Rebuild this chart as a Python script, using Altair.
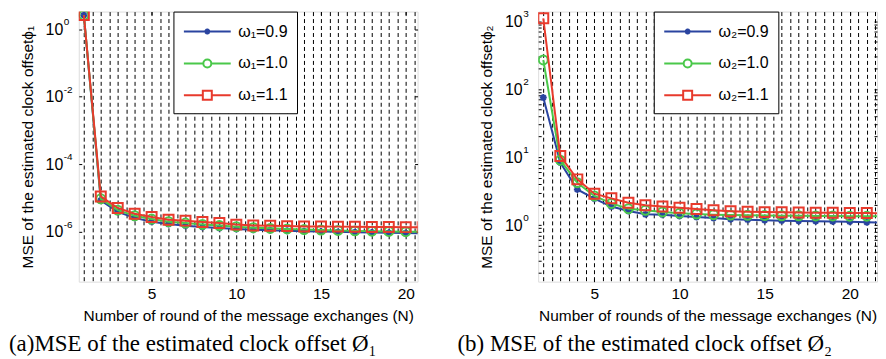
import altair as alt
import pandas as pd

# ---------------- data ----------------
left_N = list(range(1, 22))
left_blue = [2.6, 8.5e-6, 3.9e-6, 2.6e-6, 2.0e-6, 1.7e-6, 1.52e-6, 1.4e-6, 1.3e-6, 1.22e-6,
             1.16e-6, 1.12e-6, 1.08e-6, 1.05e-6, 1.02e-6, 1.0e-6, 0.98e-6, 0.96e-6, 0.94e-6, 0.92e-6, 0.9e-6]
left_green = [2.6, 9.5e-6, 4.4e-6, 3.0e-6, 2.4e-6, 2.0e-6, 1.82e-6, 1.66e-6, 1.54e-6, 1.42e-6,
              1.33e-6, 1.27e-6, 1.22e-6, 1.17e-6, 1.13e-6, 1.1e-6, 1.07e-6, 1.05e-6, 1.03e-6, 1.01e-6, 1.0e-6]
left_red = [2.6, 1.12e-5, 5.1e-6, 3.45e-6, 2.75e-6, 2.3e-6, 2.15e-6, 1.97e-6, 1.84e-6, 1.64e-6,
            1.55e-6, 1.52e-6, 1.48e-6, 1.45e-6, 1.44e-6, 1.43e-6, 1.41e-6, 1.4e-6, 1.39e-6, 1.38e-6, 1.37e-6]
left_labels = ["ω₁=0.9", "ω₁=1.0", "ω₁=1.1"]

right_N = list(range(2, 23))
right_blue = [75, 8.3, 3.34, 2.44, 1.87, 1.61, 1.44, 1.42, 1.36, 1.31, 1.27, 1.22, 1.2, 1.18, 1.16,
              1.15, 1.14, 1.13, 1.12, 1.1, 1.09]
right_green = [268, 9.0, 4.2, 2.68, 2.08, 1.74, 1.65, 1.56, 1.49, 1.45, 1.42, 1.4, 1.39, 1.38, 1.37,
               1.37, 1.36, 1.36, 1.35, 1.35, 1.34]
right_red = [1100, 10.4, 4.7, 2.89, 2.47, 2.13, 1.95, 1.87, 1.8, 1.72, 1.65, 1.6, 1.57, 1.55, 1.54,
             1.53, 1.52, 1.52, 1.51, 1.5, 1.48]
right_labels = ["ω₂=0.9", "ω₂=1.0", "ω₂=1.1"]

x_ticks = [5, 10, 15, 20]
left_grid = [1 + 0.5 * i for i in range(40)]
right_grid = [2 + 0.5 * i for i in range(40)]
left_yticks = [1e0, 1e-2, 1e-4, 1e-6]
left_yexp = ["0", "-2", "-4", "-6"]
left_yminor = []
right_yticks = [1e0, 1e1, 1e2, 1e3]
right_yexp = ["0", "1", "2", "3"]
right_yminor = [m * 10 ** k for k in range(-1, 4) for m in range(2, 10)]

colors = ["#2a44a0", "#4ac84a", "#e83a2c"]
FONT = "Liberation Sans"

# marker shapes for plot points
star_path = "M-1,0L1,0M0,-1L0,1M-0.7,-0.7L0.7,0.7M-0.7,0.7L0.7,-0.7"
point_shapes = [star_path, "circle", "square"]
point_sizes = [49, 81, 100]

# legend symbols: line segment + marker (scale 10px per unit with size 400)
leg_paths = [
    "M-2.35,0L2.35,0M-0.3,0L0.3,0M0,-0.3L0,0.3M-0.21,-0.21L0.21,0.21M-0.21,0.21L0.21,-0.21",
    "M-2.35,0L-0.4,0A0.4,0.4 0 1,1 0.4,0A0.4,0.4 0 1,1 -0.4,0M0.4,0L2.35,0",
    "M-2.35,0L-0.45,0M-0.45,-0.45L0.45,-0.45L0.45,0.45L-0.45,0.45ZM0.45,0L2.35,0",
]

IS_MAJOR = "abs(log(datum.value)/LN10 - round(log(datum.value)/LN10)) < 0.001"


def panel(N, series, labels, xdom, ydom, yticks, yexp, yminor, grid, ytitle, xtitle,
          caption, legx, capdx):
    rows = []
    for lab, vals in zip(labels, series):
        for n, v in zip(N, vals):
            rows.append({"N": n, "value": v, "series": lab})
    df = pd.DataFrame(rows)
    base = alt.Chart(df)
    xs = alt.Scale(domain=xdom, nice=False, zero=False)
    ys = alt.Scale(type="log", domain=ydom, nice=False)

    x_main = alt.X("N:Q", scale=xs, axis=alt.Axis(
        values=grid, grid=True, gridDash=[4, 3], gridColor="black", gridOpacity=1, gridWidth=1,
        ticks=True, tickSize=3, tickColor="black", tickWidth=1, offset=-3,
        tickOpacity={"condition": {"test": "datum.value % 5 == 0", "value": 1}, "value": 0},
        domain=False,
        labelExpr="datum.value % 5 == 0 ? datum.value : ''",
        labelFont=FONT, labelFontSize=15.5, labelColor="black", labelPadding=5,
        labelFlush=False, labelOverlap=False,
        title=xtitle, titleFont=FONT, titleFontSize=15.5, titleFontWeight="normal",
        titleColor="black", titlePadding=6))
    x_top = alt.X("N:Q", scale=xs, axis=alt.Axis(
        orient="top", values=x_ticks, grid=False, ticks=True, tickSize=3, tickColor="black",
        offset=-3, domain=False, labels=False, title=None))
    y_main = alt.Y("value:Q", scale=ys, axis=alt.Axis(
        values=yticks + yminor, grid=False, ticks=True, tickSize=3, tickColor="black", offset=-3,
        domain=False, labelExpr=f"{IS_MAJOR} ? '10' : ''",
        labelFont=FONT, labelFontSize=16, labelColor="black", labelPadding=16,
        labelFlush=False, labelOverlap=False,
        title=ytitle, titleFont=FONT, titleFontSize=15.5, titleFontWeight="normal",
        titleColor="black", titlePadding=10))
    y_right = alt.Y("value:Q", scale=ys, axis=alt.Axis(
        orient="right", values=yticks + yminor, grid=False, ticks=True, tickSize=3,
        tickColor="black", offset=-3, domain=False, labels=False, title=None))
    x_none = alt.X("N:Q", scale=xs, axis=None)
    y_none = alt.Y("value:Q", scale=ys, axis=None)

    layers = []
    first = True
    for lab, c, shp, sz in zip(labels, colors, point_shapes, point_sizes):
        sub = base.transform_filter(alt.datum.series == lab)
        if first:
            layers.append(sub.mark_line(color=c, strokeWidth=2, clip=True).encode(x=x_main, y=y_main))
            layers.append(sub.mark_point(color=c, shape=shp, size=sz, filled=False, strokeWidth=2,
                                         opacity=1, clip=True).encode(x=x_top, y=y_right))
            first = False
        else:
            layers.append(sub.mark_line(color=c, strokeWidth=2, clip=True).encode(x=x_none, y=y_none))
            layers.append(sub.mark_point(color=c, shape=shp, size=sz, filled=False, strokeWidth=2,
                                         opacity=1, clip=True).encode(x=x_none, y=y_none))

    # exponents of the y tick labels
    exp_df = pd.DataFrame({"value": yticks, "exp": yexp})
    layers.append(
        alt.Chart(exp_df).mark_text(align="left", baseline="middle", dy=-7, font=FONT,
                                    fontSize=10, color="black").encode(
            x=alt.value(-15), y=y_none, text="exp:N")
    )

    leg = alt.Legend(orient="none", legendX=legx, legendY=0, title=None, fillColor="white",
                     strokeColor="black", padding=9, rowPadding=13, symbolSize=400,
                     symbolStrokeWidth=2, symbolOffset=14, labelOffset=20, labelFont=FONT,
                     labelFontSize=16, labelColor="black")
    layers.append(
        base.transform_filter("false").mark_point(filled=False, strokeWidth=2, opacity=1).encode(
            x=x_none, y=y_none,
            color=alt.Color("series:N", scale=alt.Scale(domain=labels, range=colors), legend=leg),
            shape=alt.Shape("series:N", scale=alt.Scale(domain=labels, range=leg_paths), legend=leg),
        )
    )
    return alt.layer(*layers).resolve_axis(x="independent", y="independent").properties(
        width=340, height=271,
        title=alt.TitleParams(caption, orient="bottom", anchor="start", frame="group", dx=capdx,
                              font="Liberation Serif", fontSize=23, fontWeight="normal",
                              color="black", offset=10),
    )


left = panel(left_N, [left_blue, left_green, left_red], left_labels, [0.7, 20.7],
             [3.36e-8, 3.31], left_yticks, left_yexp, left_yminor, left_grid,
             "MSE of the estimated clock offsetϕ₁", "Number of round of the message exchanges (N)",
             "(a)MSE of the estimated clock offset Ø₁", 95, -70)
right = panel(right_N, [right_blue, right_green, right_red], right_labels, [1.7, 21.6],
              [0.147, 1380], right_yticks, right_yexp, right_yminor, right_grid,
              "MSE of the estimated clock offsetϕ₂", "Number of rounds of the message exchanges (N)",
              "(b) MSE of the estimated clock offset Ø₂", 116, -81)

chart = alt.hconcat(left, right, spacing=38).resolve_scale(
    color="independent", shape="independent"
).resolve_legend(color="independent", shape="independent").properties(
    padding={"left": 0, "top": 0, "right": 0, "bottom": 0}
).configure_view(stroke="black", strokeWidth=1.5).configure(background="white")

chart.save("out.html", embed_options={"renderer": "svg", "actions": False})
